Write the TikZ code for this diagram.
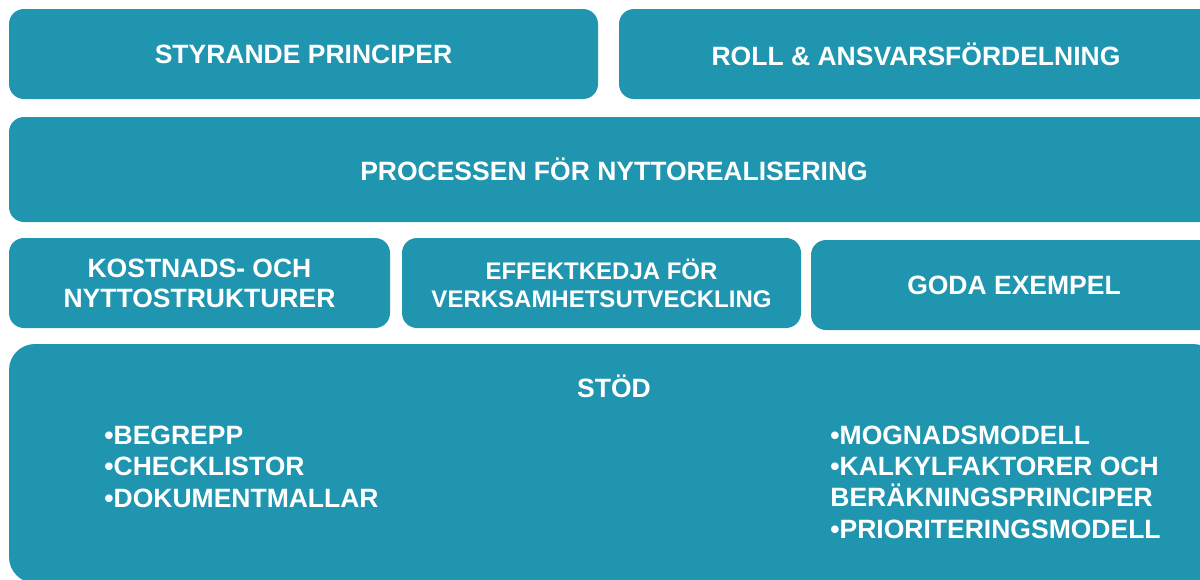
\documentclass[tikz,border=0pt]{standalone}
\usepackage{fontspec}
\setmainfont{Liberation Sans}
\usepackage{tikz}
\definecolor{tealbox}{HTML}{1F95B0}
\tikzset{block/.style={fill=tealbox, rounded corners=7.5pt}}
\tikzset{boxtext/.style={text=white, align=center, font=\bfseries\fontsize{13.25}{15}\selectfont}}
\tikzset{smalltext/.style={boxtext, font=\bfseries\fontsize{12}{14}\selectfont}}
\tikzset{listtext/.style={text=white, align=left, inner sep=0pt, anchor=base west, font=\bfseries\fontsize{13.25}{15.65}\selectfont}}

\begin{document}
\begin{tikzpicture}[x=0.5pt, y=-0.5pt]
    \useasboundingbox (0,0) rectangle (1200,579);
    \clip (0,0) rectangle (1200,579);
    % top row
    \fill[block] (9,9) rectangle (598,99) node[pos=.5, boxtext] (styr) {STYRANDE PRINCIPER};
    \fill[block] (619,9) rectangle (1213,99) node[pos=.5, boxtext] (roll) {ROLL \& ANSVARSFÖRDELNING};
    % process
    \fill[block] (9,117) rectangle (1219,222) node[pos=.5, boxtext] (proc) {PROCESSEN FÖR NYTTOREALISERING};
    % third row
    \fill[block] (9,238) rectangle (390,328) node[pos=.5, boxtext] (kost) {KOSTNADS- OCH\\NYTTOSTRUKTURER};
    \fill[block] (402,238) rectangle (801,328) node[pos=.5, smalltext] (effekt) {EFFEKTKEDJA FÖR\\VERKSAMHETSUTVECKLING};
    \fill[block] (811,240) rectangle (1217,330) node[pos=.5, boxtext] (goda) {GODA EXEMPEL};
    % support (lists anchored at the baseline of their last line)
    \fill[block, rounded corners=13pt] (9,344) rectangle (1219,583);
    \node[boxtext] (stod) at (614,386) {STÖD};
    \node[listtext] (stodleft) at (104,507) {•BEGREPP\\•CHECKLISTOR\\•DOKUMENTMALLAR};
    \node[listtext] (stodright) at (830,538) {•MOGNADSMODELL\\•KALKYLFAKTORER OCH\\BERÄKNINGSPRINCIPER\\•PRIORITERINGSMODELL};
\end{tikzpicture}
\end{document}
